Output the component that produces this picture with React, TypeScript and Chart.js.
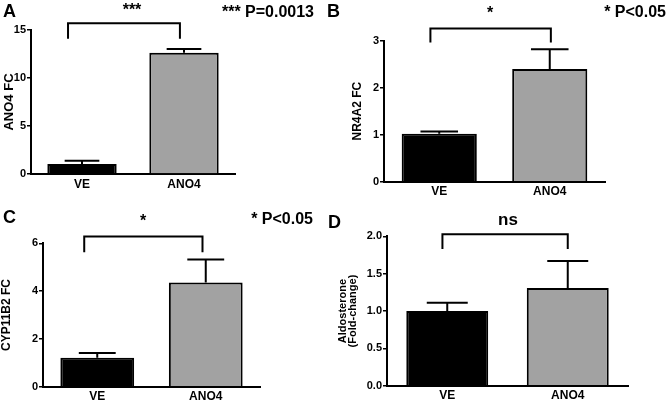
import React, { useEffect, useRef } from "react";
import { Chart, registerables } from "chart.js";

Chart.register(...registerables);

const FONT = "'Liberation Sans', Arial, Helvetica, sans-serif";

// ---------- data ----------
const categories = ["VE", "ANO4"];

const ano4Means = [1.04, 12.64];
const ano4Errors = [0.35, 0.38];
const ano4Ticks = [0, 5, 10, 15];

const nr4a2Means = [1.02, 2.4];
const nr4a2Errors = [0.05, 0.42];
const nr4a2Ticks = [0, 1, 2, 3];

const cypMeans = [1.21, 4.36];
const cypErrors = [0.2, 0.96];
const cypTicks = [0, 2, 4, 6];

const aldoMeans = [1.0, 1.31];
const aldoErrors = [0.11, 0.36];
const aldoTicks = [0, 0.5, 1.0, 1.5, 2.0];

const panelLetters = ["A", "B", "C", "D"];
const axisTitles: (string | string[])[] = ["ANO4 FC", "NR4A2 FC", "CYP11B2 FC", ["Aldosterone", "(Fold-change)"]];
const sigLabels = ["***", "*", "*", "ns"];
const pTexts = ["*** P=0.0013", "* P<0.05", "* P<0.05", ""];

const barColors = ["#000000", "#a2a2a2"];

// ---------- layout (canvas-local pixels) ----------
type Layout = {
  left: number; top: number; w: number; h: number;
  cl: number; cr: number; ct: number; cb: number;
  titleSize: number; titleLH: number; titlePad: number;
  letter: [number, number];
  sig: [number, number];
  p: [number, number];
  bracketX: [number, number];
  bracketY: [number, number];
  decimals: number;
};

const layouts: Layout[] = [
  { left: 0, top: 0, w: 320, h: 201, cl: 31, cr: 235, ct: 30, cb: 174, titleSize: 13, titleLH: 1, titlePad: 2.5, letter: [3, 17], sig: [132, 15], p: [314, 17], bracketX: [-0.137, -0.04], bracketY: [15.7, 14.1], decimals: 0 },
  { left: 320, top: 0, w: 346, h: 201, cl: 64, cr: 285, ct: 40.7, cb: 181.7, titleSize: 12, titleLH: 1, titlePad: 32, letter: [7, 17], sig: [170, 18], p: [346, 17], bracketX: [-0.08, 0.01], bracketY: [3.26, 2.96], decimals: 0 },
  { left: 0, top: 201, w: 320, h: 201, cl: 43, cr: 260, ct: 42.3, cb: 185.7, titleSize: 12, titleLH: 1, titlePad: 0.5, letter: [3, 22], sig: [143, 25], p: [313, 23], bracketX: [-0.12, -0.03], bracketY: [6.28, 5.63], decimals: 0 },
  { left: 320, top: 201, w: 346, h: 201, cl: 67, cr: 308, ct: 35.4, cb: 184.7, titleSize: 11, titleLH: 0.95, titlePad: 17.5, letter: [8, 27], sig: [188, 24], p: [0, 0], bracketX: [-0.04, 0.0], bracketY: [2.03, 1.83], decimals: 1 },
];

const panelData = [
  { means: ano4Means, errors: ano4Errors, ticks: ano4Ticks },
  { means: nr4a2Means, errors: nr4a2Errors, ticks: nr4a2Ticks },
  { means: cypMeans, errors: cypErrors, ticks: cypTicks },
  { means: aldoMeans, errors: aldoErrors, ticks: aldoTicks },
];

const X_AXIS_H = 14;

function Panel({ idx }: { idx: number }) {
  const ref = useRef<HTMLCanvasElement | null>(null);
  const L = layouts[idx];
  const D = panelData[idx];

  useEffect(() => {
    if (!ref.current) return;
    const annot = {
      id: "annot" + idx,
      afterDraw(chart: any) {
        const ctx = chart.ctx;
        const xs = chart.scales.x;
        const ys = chart.scales.y;
        const meta = chart.getDatasetMeta(0);
        ctx.save();
        ctx.strokeStyle = "#000";
        ctx.lineWidth = 2;
        ctx.lineCap = "butt";
        // error bars (upper only)
        meta.data.forEach((bar: any, i: number) => {
          const top = ys.getPixelForValue(D.means[i] + D.errors[i]);
          const half = bar.width / 4;
          ctx.beginPath();
          ctx.moveTo(bar.x, bar.y);
          ctx.lineTo(bar.x, top);
          ctx.moveTo(bar.x - half, top);
          ctx.lineTo(bar.x + half, top);
          ctx.stroke();
        });
        // bracket
        const c0 = xs.getPixelForValue(0);
        const c1 = xs.getPixelForValue(1);
        const d = c1 - c0;
        const xl = c0 + L.bracketX[0] * d;
        const xr = c1 + L.bracketX[1] * d;
        const yt = ys.getPixelForValue(L.bracketY[0]);
        const yb = ys.getPixelForValue(L.bracketY[1]);
        ctx.beginPath();
        ctx.moveTo(xl, yb);
        ctx.lineTo(xl, yt);
        ctx.lineTo(xr, yt);
        ctx.lineTo(xr, yb);
        ctx.stroke();
        // texts
        ctx.fillStyle = "#000";
        ctx.textBaseline = "alphabetic";
        ctx.font = `bold 18px ${FONT}`;
        ctx.textAlign = "left";
        ctx.fillText(panelLetters[idx], L.letter[0], L.letter[1]);
        ctx.font = `bold ${idx === 3 ? 17 : 16}px ${FONT}`;
        ctx.textAlign = "center";
        ctx.fillText(sigLabels[idx], L.sig[0], L.sig[1]);
        if (pTexts[idx]) {
          ctx.font = `bold 16px ${FONT}`;
          ctx.textAlign = "right";
          ctx.fillText(pTexts[idx], L.p[0], L.p[1]);
        }
        ctx.restore();
      },
    };

    const chart = new Chart(ref.current, {
      type: "bar",
      data: {
        labels: categories,
        datasets: [
          {
            data: D.means,
            backgroundColor: barColors,
            borderColor: "#000",
            borderWidth: 2,
            barPercentage: 0.68,
            categoryPercentage: 1,
          },
        ],
      },
      options: {
        animation: false,
        responsive: false,
        maintainAspectRatio: false,
        devicePixelRatio: 1,
        layout: {
          padding: {
            left: 0,
            top: L.ct,
            right: L.w - L.cr,
            bottom: L.h - L.cb - X_AXIS_H,
          },
        },
        plugins: { legend: { display: false }, tooltip: { enabled: false } },
        scales: {
          x: {
            grid: { display: false, drawTicks: false },
            border: { display: true, color: "#000", width: 2 },
            ticks: { color: "#000", padding: 3, font: { family: FONT, size: 12, weight: "bold" } },
            afterFit: (s: any) => { s.height = X_AXIS_H; },
          },
          y: {
            min: D.ticks[0],
            max: D.ticks[D.ticks.length - 1],
            afterBuildTicks: (s: any) => { s.ticks = D.ticks.map((v) => ({ value: v })); },
            grid: { display: true, drawOnChartArea: false, drawTicks: true, tickLength: 4, color: "#000", lineWidth: 1.5 },
            border: { display: true, color: "#000", width: 2 },
            ticks: {
              color: "#000",
              padding: 1,
              font: { family: FONT, size: 11, weight: "bold" },
              callback: (v: any) => Number(v).toFixed(L.decimals),
            },
            title: {
              display: true,
              text: axisTitles[idx] as any,
              color: "#000",
              font: { family: FONT, size: L.titleSize, weight: "bold", lineHeight: L.titleLH },
              padding: { top: L.titlePad, bottom: 0 },
            },
            afterFit: (s: any) => { s.width = L.cl; },
          },
        },
      } as any,
      plugins: [annot],
    });
    return () => chart.destroy();
  }, []);

  return (
    <canvas
      ref={ref}
      width={L.w}
      height={L.h}
      style={{ position: "absolute", left: L.left, top: L.top, width: L.w, height: L.h }}
    />
  );
}

export default function App() {
  return (
    <div style={{ position: "absolute", left: 0, top: 0, width: 666, height: 402, background: "#fff", overflow: "hidden" }}>
      {layouts.map((_, i) => (
        <Panel key={i} idx={i} />
      ))}
    </div>
  );
}
